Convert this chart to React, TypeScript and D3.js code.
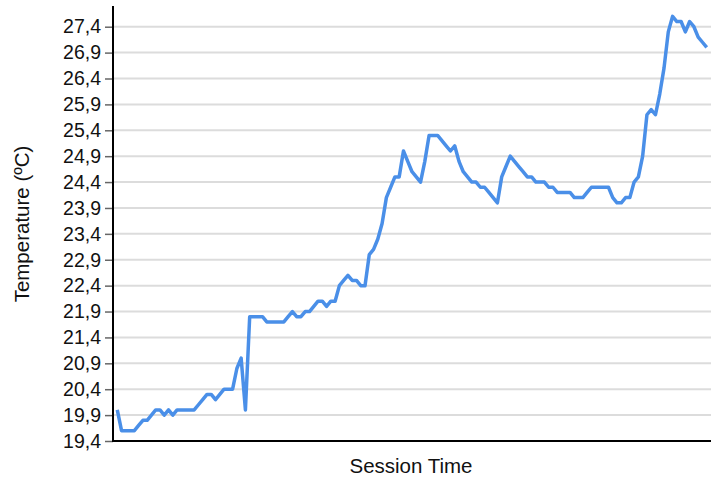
import React, { useEffect, useRef } from 'react';
import * as d3 from 'd3';

// temperature readings, one per sample of the session
const temperatures: number[] = [
  20.0, 19.6, 19.6, 19.6, 19.6, 19.7, 19.8, 19.8, 19.9, 20.0,
  20.0, 19.9, 20.0, 19.9, 20.0, 20.0, 20.0, 20.0, 20.0, 20.1,
  20.2, 20.3, 20.3, 20.2, 20.3, 20.4, 20.4, 20.4, 20.8, 21.0,
  20.0, 21.8, 21.8, 21.8, 21.8, 21.7, 21.7, 21.7, 21.7, 21.7,
  21.8, 21.9, 21.8, 21.8, 21.9, 21.9, 22.0, 22.1, 22.1, 22.0,
  22.1, 22.1, 22.4, 22.5, 22.6, 22.5, 22.5, 22.4, 22.4, 23.0,
  23.1, 23.3, 23.6, 24.1, 24.3, 24.5, 24.5, 25.0, 24.8, 24.6,
  24.5, 24.4, 24.8, 25.3, 25.3, 25.3, 25.2, 25.1, 25.0, 25.1,
  24.8, 24.6, 24.5, 24.4, 24.4, 24.3, 24.3, 24.2, 24.1, 24.0,
  24.5, 24.7, 24.9, 24.8, 24.7, 24.6, 24.5, 24.5, 24.4, 24.4,
  24.4, 24.3, 24.3, 24.2, 24.2, 24.2, 24.2, 24.1, 24.1, 24.1,
  24.2, 24.3, 24.3, 24.3, 24.3, 24.3, 24.1, 24.0, 24.0, 24.1,
  24.1, 24.4, 24.5, 24.9, 25.7, 25.8, 25.7, 26.1, 26.6, 27.3,
  27.6, 27.5, 27.5, 27.3, 27.5, 27.4, 27.2, 27.1, 27.0
];

const yTicks: number[] = [
  19.4, 19.9, 20.4, 20.9, 21.4, 21.9, 22.4, 22.9, 23.4,
  23.9, 24.4, 24.9, 25.4, 25.9, 26.4, 26.9, 27.4
];

const yLabel = 'Temperature (ºC)';
const xLabel = 'Session Time';

const App: React.FC = () => {
  const svgRef = useRef<SVGSVGElement>(null);
  const width = 720;
  const height = 481;

  useEffect(() => {
    if (!svgRef.current) return;
    const svg = d3.select(svgRef.current);
    svg.selectAll('*').remove();

    const margin = { top: 6, right: 9, bottom: 40, left: 113 };
    const font = 'Arial, "Liberation Sans", sans-serif';

    const x = d3.scaleLinear()
      .domain([-1, temperatures.length])
      .range([margin.left, width - margin.right]);

    const yMin = (d3.min(temperatures) as number) - 0.2;
    const yMax = (d3.max(temperatures) as number) + 0.2;
    const y = d3.scaleLinear()
      .domain([yMin, yMax])
      .range([height - margin.bottom, margin.top]);

    // grid
    svg.append('g')
      .selectAll('line')
      .data(yTicks.slice(1))
      .join('line')
      .attr('x1', margin.left)
      .attr('x2', width - margin.right)
      .attr('y1', d => y(d))
      .attr('y2', d => y(d))
      .attr('stroke', '#dcdcdc')
      .attr('stroke-width', 2);

    // y axis
    const yAxis = svg.append('g')
      .attr('transform', `translate(${margin.left},0)`)
      .call(
        d3.axisLeft(y)
          .tickValues(yTicks)
          .tickSize(8)
          .tickPadding(4)
          .tickFormat(d => d3.format('.1f')(d as number).replace('.', ','))
      );
    yAxis.select('.domain').remove();
    yAxis.selectAll('.tick line').attr('stroke', '#666').attr('stroke-width', 1.5);
    yAxis.selectAll('.tick text')
      .attr('fill', '#111')
      .style('font-family', font)
      .style('font-size', '19.5px');

    // axis lines
    svg.append('line')
      .attr('x1', margin.left)
      .attr('x2', margin.left)
      .attr('y1', margin.top)
      .attr('y2', height - margin.bottom + 1)
      .attr('stroke', '#000')
      .attr('stroke-width', 2);
    svg.append('line')
      .attr('x1', margin.left - 1)
      .attr('x2', width - margin.right)
      .attr('y1', height - margin.bottom)
      .attr('y2', height - margin.bottom)
      .attr('stroke', '#000')
      .attr('stroke-width', 2);

    const line = d3.line<number>()
      .x((d, i) => x(i))
      .y(d => y(d));

    svg.append('path')
      .datum(temperatures)
      .attr('fill', 'none')
      .attr('stroke', '#4a8fe8')
      .attr('stroke-width', 3.5)
      .attr('stroke-linejoin', 'round')
      .attr('d', line);

    svg.append('text')
      .attr('x', 411)
      .attr('y', 473)
      .attr('text-anchor', 'middle')
      .attr('fill', '#111')
      .style('font-family', font)
      .style('font-size', '20.5px')
      .text(xLabel);

    svg.append('text')
      .attr('transform', 'translate(29,224) rotate(-90)')
      .attr('text-anchor', 'middle')
      .attr('fill', '#111')
      .style('font-family', font)
      .style('font-size', '20.5px')
      .text(yLabel);
  }, []);

  return (
    <div style={{ position: 'fixed', left: 0, top: 0 }}>
      <svg ref={svgRef} width={width} height={height} style={{ display: 'block', background: '#fff' }} />
    </div>
  );
};

export default App;
